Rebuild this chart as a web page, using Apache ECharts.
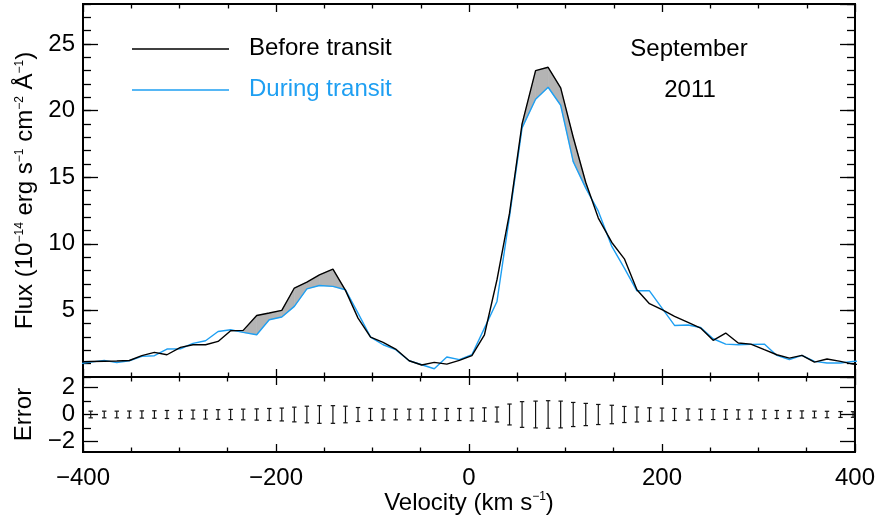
<!DOCTYPE html>
<html lang="en">
<head>
<meta charset="UTF-8">
<title>Flux before and during transit</title>
<style>
  html, body { margin: 0; padding: 0; background: #fff; }
  #main { width: 878px; height: 518px; }
</style>
</head>
<body>
<div id="main"></div>
<script src="https://cdn.jsdelivr.net/npm/echarts@6/dist/echarts.min.js"></script>
<script>
// velocity bins (km/s)
var velocity = [-405, -392, -378, -365, -352, -339, -326, -313, -299, -286,
  -273, -260, -247, -234, -220, -207, -194, -181, -168, -155,
  -141, -128, -115, -102, -89, -76, -62, -49, -36, -23,
  -10, 3, 16, 29, 42, 55, 69, 82, 95, 108,
  121, 134, 148, 161, 174, 187, 200, 213, 227, 240,
  253, 266, 279, 292, 306, 319, 332, 345, 358, 371,
  385, 398, 411];

// flux, 1e-14 erg/s/cm2/A
var fluxBefore = [1.14, 1.16, 1.18, 1.2, 1.24, 1.6, 1.85, 1.67, 2.22, 2.42,
  2.42, 2.67, 3.47, 3.5, 4.62, 4.8, 5.0, 6.68, 7.12, 7.67,
  8.1, 6.5, 4.42, 3.0, 2.6, 2.1, 1.22, 0.9, 1.1, 0.97,
  1.25, 1.6, 3.17, 7.3, 12.3, 19.0, 23.0, 23.25, 21.7, 18.0,
  14.6, 11.93, 10.1, 8.87, 6.55, 5.5, 5.05, 4.55, 4.1, 3.67,
  2.75, 3.3, 2.55, 2.47, 2.05, 1.67, 1.42, 1.62, 1.12, 1.35,
  1.17, 0.97, 0.9];

var fluxDuring = [1.0, 1.12, 1.25, 1.08, 1.22, 1.55, 1.6, 2.1, 2.12, 2.52,
  2.72, 3.42, 3.55, 3.35, 3.17, 4.3, 4.5, 5.3, 6.62, 6.87,
  6.8, 6.55, 4.8, 3.0, 2.42, 2.05, 1.22, 0.92, 0.62, 1.5,
  1.3, 1.67, 3.67, 5.67, 12.05, 18.7, 20.85, 21.75, 20.4, 16.17,
  14.18, 12.45, 9.8, 8.17, 6.47, 6.47, 5.17, 3.87, 3.9, 3.72,
  2.87, 2.47, 2.42, 2.45, 2.47, 1.62, 1.3, 1.62, 1.17, 1.05,
  1.05, 1.17, 1.2];

// half size of the error bars
var fluxError = [null, 0.25, 0.25, 0.25, 0.26, 0.27, 0.28, 0.3, 0.31, 0.33,
  0.34, 0.36, 0.38, 0.4, 0.42, 0.45, 0.48, 0.55, 0.62, 0.66,
  0.66, 0.62, 0.52, 0.45, 0.42, 0.4, 0.4, 0.42, 0.43, 0.45,
  0.45, 0.47, 0.5, 0.56, 0.78, 0.96, 1.0, 1.03, 1.0, 0.9,
  0.83, 0.75, 0.69, 0.6, 0.56, 0.5, 0.48, 0.45, 0.42, 0.4,
  0.38, 0.36, 0.35, 0.34, 0.32, 0.3, 0.28, 0.27, 0.25, 0.24,
  0.22, 0.21, null];

// velocity ranges where the absorption is shaded
var shadeRanges = [[-247, -128], [42, 134]];

var errorTicks = [-2, 0, 2];
var errorMinorTicks = [-1, 1];

var BLUE = '#1e9ff2';
var FONT = 'Liberation Sans, Arial, sans-serif';

function minus(v) { return String(v).replace('-', '\u2212'); }

function inShade(v0, v1) {
  for (var k = 0; k < shadeRanges.length; k++) {
    if (v0 >= shadeRanges[k][0] && v1 <= shadeRanges[k][1]) return true;
  }
  return false;
}

// gray polygon between the two spectra where "before" is above "during"
function renderShade(params, api) {
  var i = params.dataIndex;
  if (i >= velocity.length - 1) return;
  var v0 = velocity[i], v1 = velocity[i + 1];
  if (!inShade(v0, v1)) return;
  var b0 = fluxBefore[i], b1 = fluxBefore[i + 1];
  var u0 = fluxDuring[i], u1 = fluxDuring[i + 1];
  var d0 = b0 - u0, d1 = b1 - u1;
  if (d0 <= 0 && d1 <= 0) return;
  var pts;
  if (d0 >= 0 && d1 >= 0) {
    pts = [[v0, b0], [v1, b1], [v1, u1], [v0, u0]];
  } else {
    var t = d0 / (d0 - d1);
    var vc = v0 + t * (v1 - v0), fc = b0 + t * (b1 - b0);
    pts = d0 > 0 ? [[v0, b0], [vc, fc], [v0, u0]] : [[vc, fc], [v1, b1], [v1, u1]];
  }
  return {
    type: 'polygon',
    shape: { points: pts.map(function (p) { return api.coord(p); }) },
    style: { fill: '#b4b4b4', stroke: '#b4b4b4', lineWidth: 0.6 }
  };
}

function renderErrorBar(params, api) {
  var v = api.value(0), e = api.value(1);
  var top = api.coord([v, e]), bot = api.coord([v, -e]);
  var cap = 2.2;
  var st = { stroke: '#111', lineWidth: 1.2 };
  return {
    type: 'group',
    children: [
      { type: 'line', shape: { x1: top[0], y1: top[1], x2: bot[0], y2: bot[1] }, style: st },
      { type: 'line', shape: { x1: top[0] - cap, y1: top[1], x2: top[0] + cap, y2: top[1] }, style: st },
      { type: 'line', shape: { x1: bot[0] - cap, y1: bot[1], x2: bot[0] + cap, y2: bot[1] }, style: st }
    ]
  };
}

var tickStyle = { color: '#000', width: 1.3 };
var supRich = { sup: { fontSize: 12, lineHeight: 12, verticalAlign: 'top', fontFamily: FONT, color: '#000' } };

function velAxis(grid, pos, labels) {
  var ax = {
    type: 'value', gridIndex: grid, position: pos,
    min: -400, max: 400, interval: 200,
    axisLine: { show: false, onZero: false },
    axisTick: { show: true, inside: true, length: 8, lineStyle: tickStyle },
    minorTick: { show: true, splitNumber: 4, length: 4.5, lineStyle: tickStyle },
    splitLine: { show: false },
    axisLabel: { show: labels, color: '#000', fontSize: 24, fontFamily: FONT, margin: 14, formatter: minus }
  };
  if (labels) {
    ax.name = 'Velocity (km s{sup|\u22121})';
    ax.nameLocation = 'middle';
    ax.nameGap = 33;
    ax.nameTextStyle = { color: '#000', fontSize: 24, fontFamily: FONT, lineHeight: 24, rich: supRich };
  }
  return ax;
}

function fluxAxis(pos, major) {
  var ax = {
    type: 'value', gridIndex: 0, position: pos,
    min: 0, max: 28, interval: major ? 5 : 1,
    axisLine: { show: false, onZero: false },
    axisTick: { show: true, inside: true, length: major ? 15 : 8, lineStyle: tickStyle },
    splitLine: { show: false },
    axisLabel: { show: major && pos === 'left', showMinLabel: false, showMaxLabel: false,
      color: '#000', fontSize: 24, fontFamily: FONT, margin: 8 }
  };
  if (major && pos === 'left') {
    ax.name = 'Flux (10{sup|\u221214} erg s{sup|\u22121} cm{sup|\u22122} \u00c5{sup|\u22121})';
    ax.nameLocation = 'middle';
    ax.nameRotate = 90;
    ax.nameGap = 44;
    ax.nameTextStyle = { color: '#000', fontSize: 24, fontFamily: FONT, lineHeight: 24, rich: supRich };
  }
  return ax;
}

function errorAxis(pos, major) {
  var vals = major ? errorTicks : errorMinorTicks;
  var ax = {
    type: 'value', gridIndex: 1, position: pos,
    min: -2.8, max: 2.8,
    axisLine: { show: false, onZero: false },
    axisTick: { show: true, inside: true, length: major ? 15 : 8, lineStyle: tickStyle, customValues: vals },
    splitLine: { show: false },
    axisLabel: { show: major && pos === 'left', customValues: vals,
      color: '#000', fontSize: 24, fontFamily: FONT, margin: 8, formatter: minus }
  };
  if (major && pos === 'left') {
    ax.name = 'Error';
    ax.nameLocation = 'middle';
    ax.nameRotate = 90;
    ax.nameGap = 44;
    ax.nameTextStyle = { color: '#000', fontSize: 24, fontFamily: FONT, lineHeight: 24 };
  }
  return ax;
}

function pairs(ys) {
  var out = [];
  for (var i = 0; i < velocity.length; i++) {
    if (ys[i] != null) out.push([velocity[i], ys[i]]);
  }
  return out;
}

var option = {
  backgroundColor: '#fff',
  animation: false,
  grid: [
    { left: 83, right: 23, top: 4, height: 373, show: true, borderColor: '#000', borderWidth: 2 },
    { left: 83, right: 23, top: 377, height: 75, show: true, borderColor: '#000', borderWidth: 2 }
  ],
  xAxis: [
    velAxis(0, 'bottom', false),
    velAxis(0, 'top', false),
    velAxis(1, 'bottom', true),
    velAxis(1, 'top', false)
  ],
  yAxis: [
    fluxAxis('left', true),
    fluxAxis('left', false),
    fluxAxis('right', true),
    fluxAxis('right', false),
    errorAxis('left', true),
    errorAxis('left', false),
    errorAxis('right', true),
    errorAxis('right', false)
  ],
  graphic: [
    { type: 'line', shape: { x1: 132, y1: 49, x2: 229, y2: 49 }, style: { stroke: '#000', lineWidth: 1.5 } },
    { type: 'text', left: 249, top: 36, style: { text: 'Before transit', fill: '#000', font: '24px ' + FONT } },
    { type: 'line', shape: { x1: 132, y1: 90, x2: 229, y2: 90 }, style: { stroke: BLUE, lineWidth: 1.5 } },
    { type: 'text', left: 249, top: 77, style: { text: 'During transit', fill: BLUE, font: '24px ' + FONT } },
    { type: 'text', x: 689, y: 49, style: { text: 'September', fill: '#000', font: '24px ' + FONT, align: 'center', verticalAlign: 'middle' } },
    { type: 'text', x: 690, y: 90, style: { text: '2011', fill: '#000', font: '24px ' + FONT, align: 'center', verticalAlign: 'middle' } }
  ],
  series: [
    {
      type: 'custom', name: 'absorption', xAxisIndex: 0, yAxisIndex: 0,
      renderItem: renderShade, clip: true, z: 1,
      data: pairs(fluxBefore)
    },
    {
      type: 'line', name: 'During transit', xAxisIndex: 0, yAxisIndex: 0,
      data: pairs(fluxDuring), symbol: 'none', z: 2,
      lineStyle: { color: BLUE, width: 1.4 }
    },
    {
      type: 'line', name: 'Before transit', xAxisIndex: 0, yAxisIndex: 0,
      data: pairs(fluxBefore), symbol: 'none', z: 3,
      lineStyle: { color: '#000', width: 1.4 }
    },
    {
      type: 'custom', name: 'error', xAxisIndex: 2, yAxisIndex: 4,
      renderItem: renderErrorBar, clip: true, z: 2,
      data: pairs(fluxError)
    }
  ]
};

var myChart = echarts.init(document.getElementById('main'), null, { renderer: 'canvas' });
myChart.setOption(option);
</script>
</body>
</html>
